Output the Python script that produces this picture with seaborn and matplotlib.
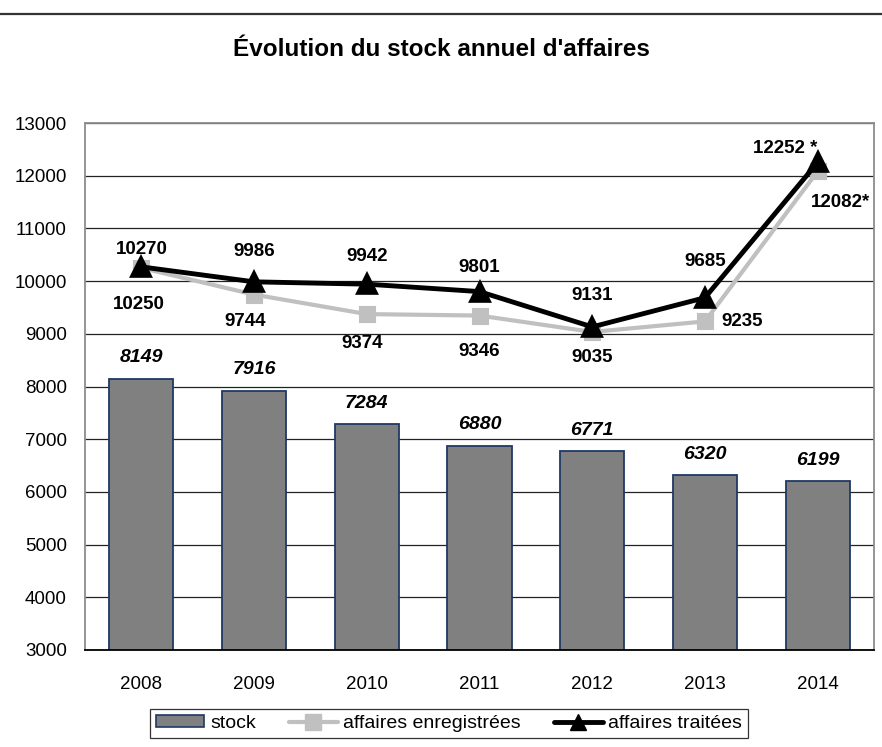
import numpy as np
import pandas as pd
import matplotlib
matplotlib.use("Agg")
import matplotlib.pyplot as plt
import seaborn as sns
from matplotlib.lines import Line2D
from matplotlib.patches import Patch

# --- data ---
years       = ["2008", "2009", "2010", "2011", "2012", "2013", "2014"]
stock       = [8149, 7916, 7284, 6880, 6771, 6320, 6199]
enregistres = [10250, 9744, 9374, 9346, 9035, 9235, 12082]
traites     = [10270, 9986, 9942, 9801, 9131, 9685, 12252]
lbl_enreg   = ["10250", "9744", "9374", "9346", "9035", "9235", "12082*"]
lbl_trait   = ["10270", "9986", "9942", "9801", "9131", "9685", "12252 *"]

# label offsets in pixels (dx, dy), placed by hand like the original
off_enreg = [(-3, -37), (-9, -27), (-5, -29), (0, -36), (0, -26), (37, 0), (23, -31)]
off_trait = [(0, 17), (0, 30), (0, 28), (0, 24), (0, 31), (0, 36), (-32, 14)]

df = pd.DataFrame({"annee": years, "stock": stock,
                   "enreg": enregistres, "trait": traites})

sns.set_style("white")
plt.rcParams["font.family"] = ["Liberation Sans", "DejaVu Sans"]
plt.rcParams.update({"text.color": "black", "xtick.color": "black",
                     "ytick.color": "black", "axes.labelcolor": "black"})

DPI = 100
fig = plt.figure(figsize=(8.82, 7.47), dpi=DPI)
ax = fig.add_axes([85/882, 1 - 650/747, (874-85)/882, (650-123)/747])

sns.barplot(data=df, x="annee", y="stock", color="#808080", saturation=1,
            width=0.57, edgecolor="#1f3864", linewidth=1.3, ax=ax, zorder=2)
sns.pointplot(data=df, x="annee", y="enreg", color="#c0c0c0", marker="s",
              markersize=10.5, linewidth=3, ax=ax, zorder=3)
sns.pointplot(data=df, x="annee", y="trait", color="black", marker="^",
              markersize=12.5, linewidth=3.5, ax=ax, zorder=4)

ax.set_ylim(3000, 13000)
ax.set_yticks(range(3000, 13001, 1000))
ax.set_xlim(-0.5, 6.5)
ax.yaxis.grid(True, color="#222222", linewidth=0.9)
ax.set_axisbelow(True)
ax.set_xlabel("")
ax.set_ylabel("")
ax.tick_params(axis="both", length=0, labelsize=13.5, labelcolor="black")
ax.tick_params(axis="x", pad=19)
ax.tick_params(axis="y", pad=13)
for side in ["left", "top", "right"]:
    ax.spines[side].set_color("#8c8c8c")
    ax.spines[side].set_linewidth(1.3)
ax.spines["bottom"].set_color("black")
ax.spines["bottom"].set_linewidth(1.3)

px = 72 / DPI
for i in range(len(years)):
    ax.annotate(f"{stock[i]}", (i, stock[i]), xytext=(0, 21*px),
                textcoords="offset points", ha="center", va="center",
                fontsize=14, fontweight="bold", fontstyle="italic", color="black")
    dx, dy = off_enreg[i]
    ax.annotate(lbl_enreg[i], (i, enregistres[i]), xytext=(dx*px, dy*px),
                textcoords="offset points", ha="center", va="center",
                fontsize=13.5, fontweight="bold", color="black")
    dx, dy = off_trait[i]
    ax.annotate(lbl_trait[i], (i, traites[i]), xytext=(dx*px, dy*px),
                textcoords="offset points", ha="center", va="center",
                fontsize=13.5, fontweight="bold", color="black")

fig.text(0.5, 1 - 50/747, "Évolution du stock annuel d'affaires",
         ha="center", va="center", fontsize=17.5, fontweight="bold", color="black")
fig.add_artist(Line2D([0, 1], [1 - 14/747, 1 - 14/747], color="#333333",
                      linewidth=1.6, transform=fig.transFigure))

handles = [
    Patch(facecolor="#808080", edgecolor="#1f3864", linewidth=1.2, label="stock"),
    Line2D([], [], color="#c0c0c0", marker="s", markersize=11, linewidth=3,
           label="affaires enregistrées"),
    Line2D([], [], color="black", marker="^", markersize=11, linewidth=3.5,
           label="affaires traitées"),
]
leg = fig.legend(handles=handles, loc="center", bbox_to_anchor=(449/882, 1 - 723.5/747),
                 ncol=3, frameon=True, fancybox=False, fontsize=14,
                 handlelength=2.5, handleheight=0.6, handletextpad=0.3,
                 columnspacing=1.7, borderpad=0.3, edgecolor="black")
leg.get_frame().set_linewidth(0.9)

fig.savefig("out.png", dpi=DPI)
